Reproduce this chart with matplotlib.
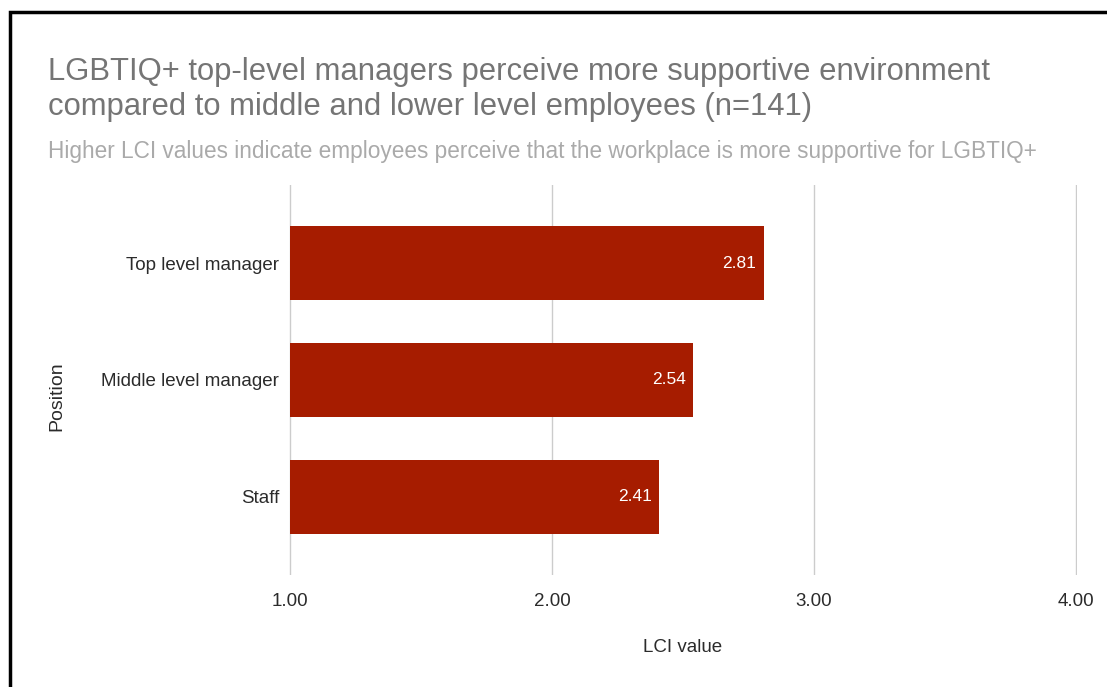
import matplotlib
matplotlib.use('Agg')
import matplotlib.pyplot as plt
import matplotlib.patches as mpatches

plt.rcParams['font.family'] = ['Liberation Sans', 'DejaVu Sans']

# data
positions = ['Top level manager', 'Middle level manager', 'Staff']
lci = [2.81, 2.54, 2.41]
xticks = [1.0, 2.0, 3.0, 4.0]
xticklabels = ['1.00', '2.00', '3.00', '4.00']

title = ('LGBTIQ+ top-level managers perceive more supportive environment\n'
         'compared to middle and lower level employees (n=141)')
subtitle = 'Higher LCI values indicate employees perceive that the workplace is more supportive for LGBTIQ+'

W, H = 1107, 687
fig = plt.figure(figsize=(W/100, H/100), dpi=100)
ax = fig.add_axes([289/W, 1-575/H, (1077-289)/W, (575-185)/H])

ypos = list(range(len(positions)))
ax.barh(ypos, [v - 1.0 for v in lci], left=1.0, height=0.63, color='#a61c00', zorder=3)
for y, v in zip(ypos, lci):
    ax.text(v - 0.03, y, '%.2f' % v, color='white', ha='right', va='center', fontsize=12.5, zorder=4)

ax.set_ylim(2.67, -0.67)
ax.set_xticks(xticks)
ax.set_xticklabels(xticklabels, fontsize=13.5, color='#2b2b2b')
ax.set_yticks(ypos)
ax.set_yticklabels(positions, fontsize=13.5, color='#2b2b2b')
ax.tick_params(axis='both', length=0)
ax.tick_params(axis='x', pad=13)
ax.tick_params(axis='y', pad=7)
ax.grid(axis='x', color='#cccccc', linewidth=1, zorder=0)
for s in ax.spines.values():
    s.set_visible(False)
ax.set_xlim(0.995, 4.005)

fig.text(683/W, 1-647/H, 'LCI value', ha='center', va='center', fontsize=13.5, color='#2b2b2b')
fig.text(57/W, 1-396/H, 'Position', ha='center', va='center', rotation=90, fontsize=14, color='#2b2b2b')

fig.text(48/W, 1-57/H, title, ha='left', va='top', fontsize=22.3, color='#757575', linespacing=1.22)
fig.text(48/W, 1-140/H, subtitle, ha='left', va='top', fontsize=16.3, color='#aaaaaa')

# black frame of the screenshot
frame = mpatches.Rectangle((9.5/W, -0.1), 1.2, 1 - 12/H + 0.1, transform=fig.transFigure,
                           fill=False, edgecolor='black', linewidth=2.5, clip_on=False)
fig.patches.append(frame)

plt.savefig('out.png', dpi=100)
